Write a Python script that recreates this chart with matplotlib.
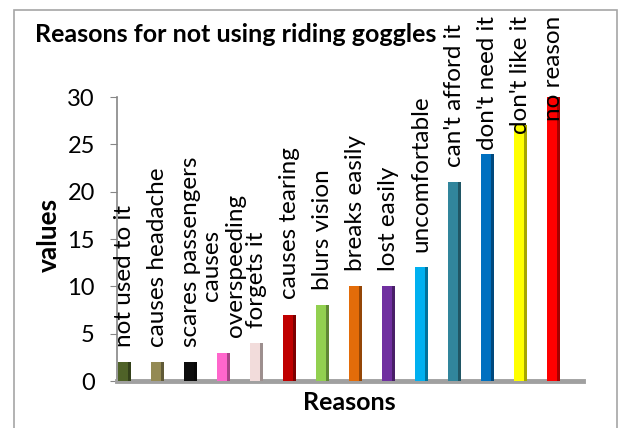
import matplotlib
matplotlib.use('Agg')
import matplotlib.pyplot as plt
import matplotlib.colors as mcolors
from matplotlib.patches import Rectangle
import numpy as np

plt.rcParams['font.family'] = ['Lato', 'DejaVu Sans']

# Data
reasons = ['not used to it', 'causes headache', 'scares passengers',
           'causes\noverspeeding', 'forgets it', 'causes tearing',
           'blurs vision', 'breaks easily', 'lost easily', 'uncomfortable',
           "can't afford it", "don't need it", "don't like it", 'no reason']
values = [2, 2, 2, 3, 4, 7, 8, 10, 10, 12, 21, 24, 27, 30]
bar_colors = ['#4F6228', '#948A54', '#0D0D0D', '#FF66CC', '#F2DCDB', '#C00000',
              '#92D050', '#E36C09', '#7030A0', '#00B0F0', '#31859C', '#0070C0',
              '#FFFF00', '#FF0000']

W, H = 622, 428
fig = plt.figure(figsize=(W / 100, H / 100), dpi=100)
ax = fig.add_axes([117 / W, 47 / H, (583 - 117) / W, (381 - 97) / H])

# outer chart border
fig.patches.append(Rectangle((14 / W, -0.1), (617 - 14) / W, 1.1 - 10 / H,
                             transform=fig.transFigure, fill=False,
                             edgecolor='#A6A6A6', linewidth=1.2))

x = np.arange(len(values))
face_w, side_w = 0.30, 0.09
side_colors = [tuple(c * 0.65 for c in mcolors.to_rgb(col)) for col in bar_colors]
ax.bar(x - side_w / 2, values, width=face_w, color=bar_colors, zorder=3)
ax.bar(x + face_w / 2, values, width=side_w, color=side_colors, zorder=3)

ax.set_xlim(-0.22, 13.9)
ax.set_ylim(0, 30)
ax.set_yticks(range(0, 31, 5))
ax.set_xticks([])
ax.tick_params(axis='y', labelsize=17, length=5, color='#868686', pad=11)
for s in ['top', 'right']:
    ax.spines[s].set_visible(False)
ax.spines['left'].set_color('#868686')
ax.spines['left'].set_linewidth(1.2)
ax.spines['bottom'].set_color('#A0A0A0')
ax.spines['bottom'].set_linewidth(3.5)

# data labels above bars, pushed down when they would leave the chart
labels = []
for xi, v, r in zip(x, values, reasons):
    t = ax.annotate(r, xy=(xi, v), xytext=(0, 11), textcoords='offset points',
                    rotation=90, ha='center', va='bottom', multialignment='center',
                    fontsize=17.5, linespacing=1.2, annotation_clip=False, zorder=4)
    labels.append(t)

fig.canvas.draw()
renderer = fig.canvas.get_renderer()
top_limit = H - 16
for t in labels:
    bb = t.get_window_extent(renderer)
    if bb.y1 > top_limit:
        dx, dy = t.xyann
        t.xyann = (dx, dy - (bb.y1 - top_limit) * 72 / 100)

fig.text(35 / W, 1 - 34 / H, 'Reasons for not using riding goggles',
         fontsize=18, fontweight='bold', ha='left', va='center')
fig.text(49 / W, 1 - 235 / H, 'values', fontsize=19, fontweight='bold',
         rotation=90, ha='center', va='center')
fig.text(349 / W, 1 - 403 / H, 'Reasons', fontsize=18, fontweight='bold',
         ha='center', va='center')

fig.savefig('out.png', dpi=100)
